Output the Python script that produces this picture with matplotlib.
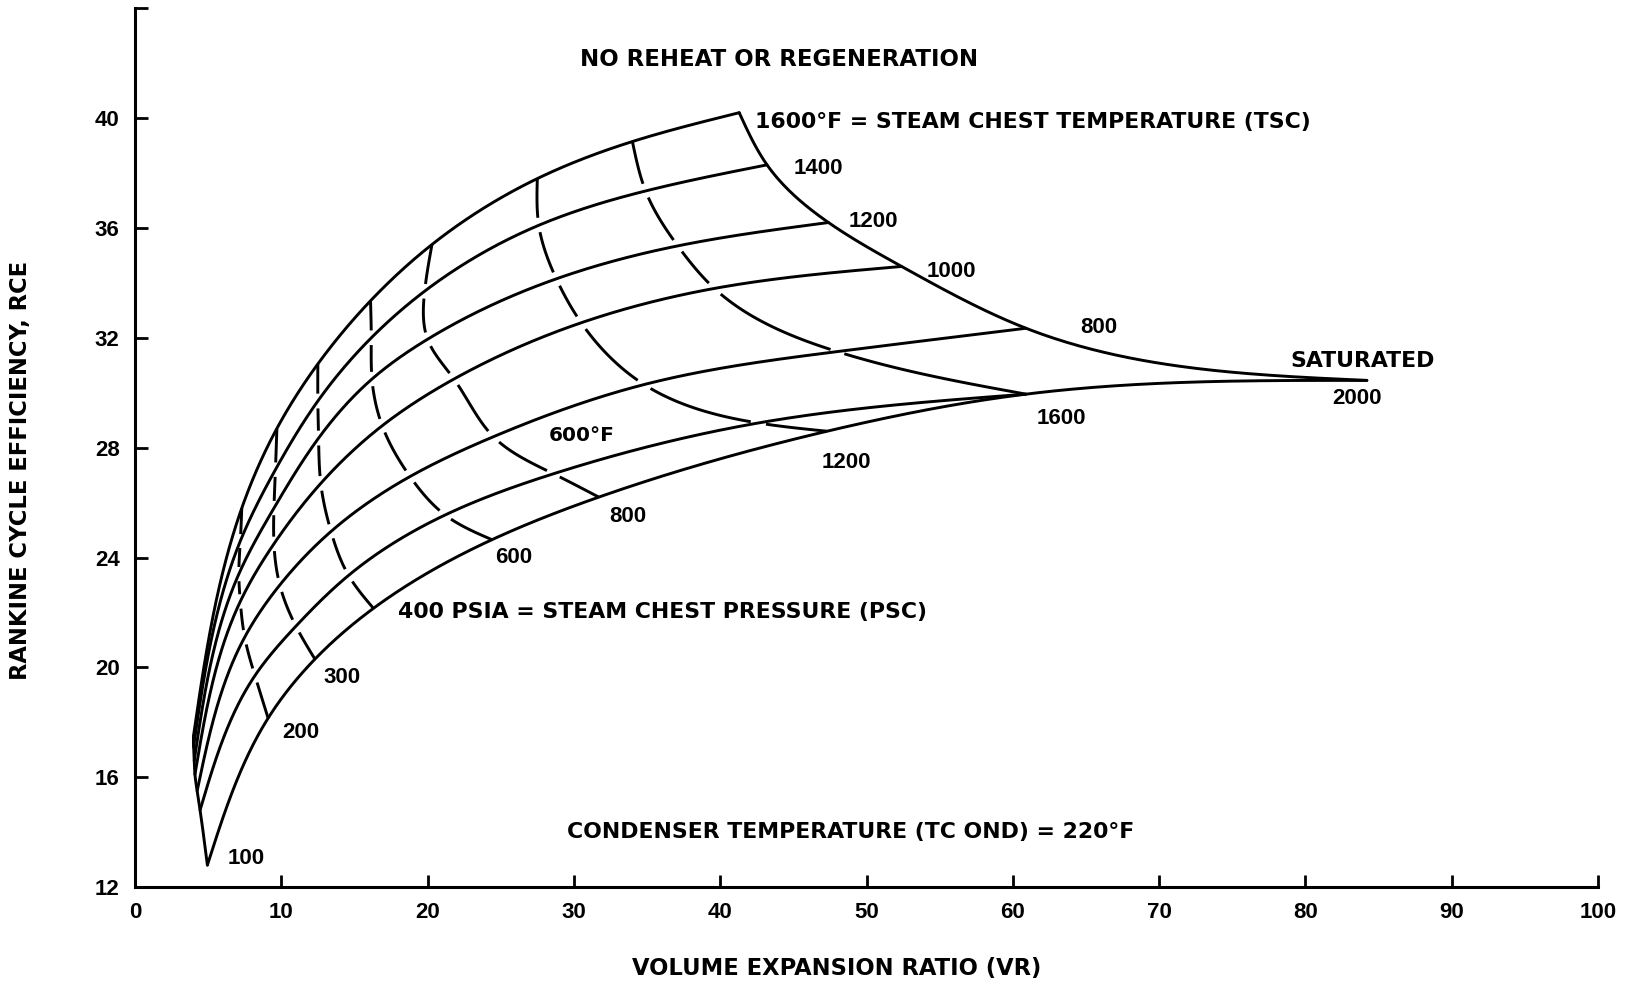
import numpy as np
import matplotlib
matplotlib.use("Agg")
import matplotlib.pyplot as plt

nan = np.nan

# Steam chest pressures (psia) at which each temperature curve is tabulated
pressures = [100, 200, 300, 400, 600, 800, 1200, 1600, 2000]

# Volume expansion ratio (VR) and Rankine cycle efficiency (RCE) along each
# constant steam chest temperature curve, one entry per pressure above.
vr_sat = [4.95, 9.1, 12.3, 16.3, 24.4, 31.7, 47.3, 60.9, 84.2]
rce_sat = [12.8, 18.15, 20.3, 22.15, 24.65, 26.2, 28.6, 29.95, 30.45]
vr_600 = [4.45, 8.2, 11.0, 14.6, 21.2, 28.6, 42.6, 60.9, nan]
rce_600 = [14.8, 19.7, 21.5, 23.35, 25.55, 27.05, 28.9, 29.95, nan]
vr_800 = [4.25, 7.5, 9.9, 13.4, 18.8, 24.5, 34.8, 48.0, 60.9]
rce_800 = [15.5, 21.1, 23.0, 24.95, 26.95, 28.4, 30.3, 31.5, 32.35]
vr_1000 = [4.1, 7.2, 9.5, 12.7, 16.9, 21.8, 30.5, 39.6, 52.4]
rce_1000 = [16.1, 22.4, 24.5, 26.7, 28.8, 30.5, 32.55, 33.8, 34.6]
vr_1200 = [4.05, 7.1, 9.5, 12.55, 16.2, 20.0, 28.8, 37.1, 47.4]
rce_1200 = [16.6, 23.4, 25.8, 28.35, 30.5, 31.95, 34.15, 35.35, 36.2]
vr_1400 = [4.0, 7.2, 9.6, 12.5, 16.15, 19.8, 27.6, 34.9, 43.2]
rce_1400 = [17.1, 24.6, 27.2, 29.7, 32.0, 33.7, 36.1, 37.35, 38.3]
vr_1600 = [4.0, 7.3, 9.7, 12.5, 16.1, 20.3, 27.5, 34.0, 41.3]
rce_1600 = [17.5, 25.8, 28.7, 31.05, 33.35, 35.4, 37.8, 39.15, 40.2]

curves_vr = [vr_sat, vr_600, vr_800, vr_1000, vr_1200, vr_1400, vr_1600]
curves_rce = [rce_sat, rce_600, rce_800, rce_1000, rce_1200, rce_1400, rce_1600]

x_ticks = [0, 10, 20, 30, 40, 50, 60, 70, 80, 90, 100]
y_ticks = [12, 16, 20, 24, 28, 32, 36, 40, 44]
y_tick_labels = ["12", "16", "20", "24", "28", "32", "36", "40", ""]

# (text, VR, RCE) for the annotations written on the chart
labels = [
    ("NO REHEAT OR REGENERATION", 30.4, 42.14),
    ("1600°F = STEAM CHEST TEMPERATURE (TSC)", 42.4, 39.87),
    ("1400", 45.0, 38.17),
    ("1200", 48.75, 36.24),
    ("1000", 54.1, 34.42),
    ("800", 64.6, 32.38),
    ("SATURATED", 79.0, 31.16),
    ("2000", 81.8, 29.8),
    ("1600", 61.6, 29.05),
    ("1200", 46.9, 27.47),
    ("600°F", 28.25, 28.44),
    ("800", 32.4, 25.49),
    ("600", 24.65, 24.0),
    ("400 PSIA = STEAM CHEST PRESSURE (PSC)", 18.0, 22.0),
    ("300", 12.85, 19.63),
    ("200", 10.05, 17.61),
    ("100", 6.35, 13.03),
    ("CONDENSER TEMPERATURE (TC OND) = 220°F", 29.5, 14.02),
]

NUM_FONT = "Liberation Sans"
TXT_FONT = "DejaVu Sans"
LW = 2.1
GAP = 7.0  # px left open where a dashed pressure line meets a temperature curve

fig = plt.figure(figsize=(16.3, 9.82), dpi=100)
ax = fig.add_axes([0.0828, 0.0967, 0.8976, 0.8948])
ax.set_xlim(0, 100)
ax.set_ylim(12, 44)
for side in ("top", "right"):
    ax.spines[side].set_visible(False)
for side in ("left", "bottom"):
    ax.spines[side].set_linewidth(2.2)
ax.set_xticks(x_ticks)
ax.set_yticks(y_ticks)
ax.set_yticklabels(y_tick_labels)
ax.tick_params(direction="in", length=9, width=2.0, pad=11, labelsize=16)
for lbl in ax.get_xticklabels() + ax.get_yticklabels():
    lbl.set_family(NUM_FONT)
    lbl.set_weight("bold")


def natural_spline(t, y, tt):
    t = np.asarray(t, float)
    y = np.asarray(y, float)
    n = len(t)
    h = np.diff(t)
    A = np.zeros((n, n))
    r = np.zeros(n)
    A[0, 0] = A[-1, -1] = 1.0
    for i in range(1, n - 1):
        A[i, i - 1] = h[i - 1]
        A[i, i] = 2 * (h[i - 1] + h[i])
        A[i, i + 1] = h[i]
        r[i] = 6 * ((y[i + 1] - y[i]) / h[i] - (y[i] - y[i - 1]) / h[i - 1])
    m = np.linalg.solve(A, r)
    k = np.clip(np.searchsorted(t, tt, side="right") - 1, 0, n - 2)
    a = t[k + 1] - tt
    b = tt - t[k]
    hk = h[k]
    return ((m[k] * a ** 3 + m[k + 1] * b ** 3) / (6 * hk)
            + (y[k] / hk - m[k] * hk / 6) * a
            + (y[k + 1] / hk - m[k + 1] * hk / 6) * b)


def smooth(xs, ys, per_seg=80):
    """Spline through the points in screen space; returns knots and dense path."""
    pts = ax.transData.transform(np.column_stack([xs, ys]))
    d = np.hypot(*np.diff(pts, axis=0).T)
    t = np.concatenate([[0.0], np.cumsum(d)])
    tt = np.concatenate([np.linspace(t[i], t[i + 1], per_seg, endpoint=False)
                         for i in range(len(t) - 1)] + [[t[-1]]])
    px = natural_spline(t, pts[:, 0], tt)
    py = natural_spline(t, pts[:, 1], tt)
    return t, tt, np.column_stack([px, py])


def to_data(p):
    return ax.transData.inverted().transform(p)


def clean(xs, ys):
    out = []
    for x, y in zip(xs, ys):
        if np.isnan(x) or np.isnan(y):
            continue
        if out and abs(out[-1][0] - x) < 1e-9 and abs(out[-1][1] - y) < 1e-9:
            continue
        out.append((x, y))
    return np.array(out)


# constant temperature curves (solid)
for vr, rce in zip(curves_vr, curves_rce):
    p = clean(vr, rce)
    _, _, path = smooth(p[:, 0], p[:, 1])
    d = to_data(path)
    ax.plot(d[:, 0], d[:, 1], color="black", lw=LW, solid_capstyle="round")

# constant pressure lines: 100 and 2000 psia solid, the others broken at each curve
for j, pres in enumerate(pressures):
    p = clean([c[j] for c in curves_vr], [c[j] for c in curves_rce])
    knots, tt, path = smooth(p[:, 0], p[:, 1])
    if pres in (100, 2000):
        d = to_data(path)
        ax.plot(d[:, 0], d[:, 1], color="black", lw=LW, solid_capstyle="round")
        continue
    nseg = len(knots) - 1
    for k in range(nseg):
        mask = (tt >= knots[k]) & (tt <= knots[k + 1] + 1e-9)
        seg = path[mask]
        s = np.concatenate([[0.0], np.cumsum(np.hypot(*np.diff(seg, axis=0).T))])
        lo = 0.0 if k == 0 else GAP
        hi = s[-1] - (0.0 if k == nseg - 1 else GAP)
        keep = (s >= lo) & (s <= hi)
        if keep.sum() < 2:
            continue
        d = to_data(seg[keep])
        ax.plot(d[:, 0], d[:, 1], color="black", lw=LW, solid_capstyle="butt")

for text, x, y in labels:
    if text.isdigit():
        family, size = NUM_FONT, 16
    elif len(text) < 8:
        family, size = TXT_FONT, 14.5
    elif text.startswith("NO "):
        family, size = TXT_FONT, 16.5
    else:
        family, size = TXT_FONT, 15.8
    ax.text(x, y, text, ha="left", va="center", fontsize=size,
            family=family, weight="bold", color="black")

fig.text(837 / 1630, 1 - 968 / 982, "VOLUME EXPANSION RATIO (VR)",
         ha="center", va="center", fontsize=16.3, family=TXT_FONT, weight="bold")
fig.text(21 / 1630, 1 - 470 / 982, "RANKINE CYCLE EFFICIENCY, RCE",
         ha="center", va="center", rotation=90, fontsize=16.3,
         family=TXT_FONT, weight="bold")

fig.savefig("out.png", dpi=100, facecolor="white")
